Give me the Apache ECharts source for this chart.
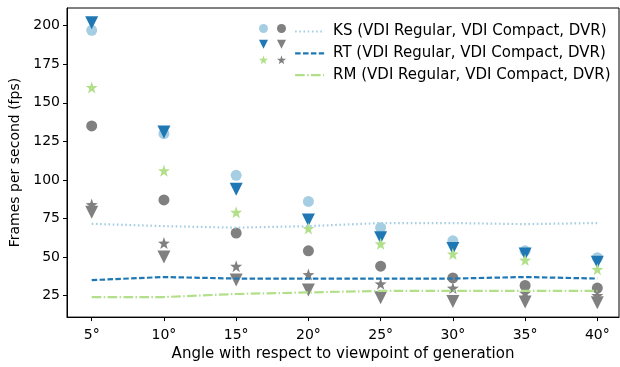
<!DOCTYPE html>
<html lang="en">
    <head>
        <meta charset="UTF-8">
        <script src="https://cdn.jsdelivr.net/npm/echarts@6/dist/echarts.min.js"></script>
        <title>Frames per second</title>
        <style>
            body { margin: 0; background: #fff; }
        </style>
    </head>
    <body>
        <div id="main" style="width: 620px; height: 367px;"></div>
    </body>
    <script>
        // angles (x axis) and tick values
        var angles = [5, 10, 15, 20, 25, 30, 35, 40];
        var yTicks = [25, 50, 75, 100, 125, 150, 175, 200];

        // KS
        var ksRegular = [197, 130, 103, 86, 69, 60.5, 54, 49.5];
        var ksCompact = [135, 87, 65.5, 54, 44, 36.4, 31.5, 29.8];
        var ksDvr     = [71.5, 70, 69, 70, 72, 72, 71.3, 72];
        // RT
        var rtRegular = [202, 131, 94, 74, 62.5, 55.5, 52, 46.5];
        var rtCompact = [79, 50, 35, 28.5, 23.5, 21.2, 20.8, 20.3];
        var rtDvr     = [35, 37, 36, 36, 36, 36, 37, 36];
        // RM
        var rmRegular = [160, 106, 79, 68.5, 58.5, 52, 48, 42];
        var rmCompact = [84, 59, 44, 38.6, 32.6, 29.8, 26.6, 25];
        var rmDvr     = [24, 24, 26, 27, 28, 28, 28, 28];

        var lightBlue = "#a6cee3", darkBlue = "#1f78b4", lightGreen = "#b2df8a", gray = "#808080";
        var star = "path://M0,-10 L2.35,-3.24 L9.51,-3.09 L3.8,1.24 L5.88,8.09 L0,4 L-5.88,8.09 L-3.8,1.24 L-9.51,-3.09 L-2.35,-3.24 Z";
        var triDown = "path://M-10,-10 L10,-10 L0,10 Z";
        var font = "DejaVu Sans";

        function pairs(vals) {
            return angles.map(function (a, i) { return [a, vals[i]]; });
        }
        function pts(name, vals, symbol, color, size) {
            return {
                name: name, type: "scatter", data: pairs(vals),
                symbol: symbol, symbolSize: size,
                itemStyle: { color: color, opacity: 1 }
            };
        }
        function dvr(name, vals, color, dash) {
            return {
                name: name, type: "line", data: pairs(vals), symbol: "none",
                lineStyle: { color: color, width: 2.2, type: dash },
                itemStyle: { color: color }
            };
        }

        var ksName = "KS (VDI Regular, VDI Compact, DVR)";
        var rtName = "RT (VDI Regular, VDI Compact, DVR)";
        var rmName = "RM (VDI Regular, VDI Compact, DVR)";

        var series = [
            pts("KS reg", ksRegular, "circle", lightBlue, 11),
            pts("RT reg", rtRegular, triDown, darkBlue, 13),
            pts("RM reg", rmRegular, star, lightGreen, 12),
            pts("KS comp", ksCompact, "circle", gray, 11),
            pts("RT comp", rtCompact, triDown, gray, 13),
            pts("RM comp", rmCompact, star, gray, 12),
            dvr(ksName, ksDvr, lightBlue, [1.6, 2.6]),
            dvr(rtName, rtDvr, darkBlue, [5.5, 2.4]),
            dvr(rmName, rmDvr, lightGreen, [9.6, 2.4, 1.5, 2.4])
        ];

        // legend: three columns of handles, text only on the last one
        function legendCol(names, left, width, withText) {
            var l = {
                data: names, orient: "vertical", left: left, top: 19,
                itemWidth: width, itemHeight: 14, itemGap: 6.8,
                selectedMode: false,
                formatter: withText ? "{name}" : function () { return ""; },
                textStyle: { fontFamily: font, fontSize: 15, color: "#000", lineHeight: 14, padding: [0, 0, 0, 4] }
            };
            if (withText) {
                l.itemStyle = { opacity: 0, color: "transparent", borderColor: "transparent" };
                l.lineStyle = { width: 2.2 };
            }
            return l;
        }

        var myCharts = echarts.init(document.getElementById("main"));
        var option = {
            animation: false,
            backgroundColor: "#fff",
            textStyle: { fontFamily: font },
            grid: { left: 67, right: 1, top: 8, bottom: 48, show: true, borderColor: "#000", borderWidth: 1 },
            legend: [
                legendCol(["KS reg", "RT reg", "RM reg"], 254, 9, false),
                legendCol(["KS comp", "RT comp", "RM comp"], 272, 9, false),
                legendCol([ksName, rtName, rmName], 289, 29, true)
            ],
            xAxis: {
                type: "value", min: 3.29, max: 41.5,
                name: "Angle with respect to viewpoint of generation",
                nameLocation: "middle", nameGap: 29,
                nameTextStyle: { fontFamily: font, fontSize: 15, color: "#000" },
                axisLine: { lineStyle: { color: "#000", width: 1 } },
                axisTick: { show: true, length: 4, customValues: angles, lineStyle: { color: "#000" } },
                axisLabel: { customValues: angles, formatter: "{value}°", fontFamily: font, fontSize: 14, color: "#000", margin: 11 },
                splitLine: { show: false }
            },
            yAxis: {
                type: "value", min: 11, max: 211.5,
                name: "Frames per second (fps)",
                nameLocation: "middle", nameGap: 45,
                nameTextStyle: { fontFamily: font, fontSize: 14, color: "#000" },
                axisLine: { show: true, lineStyle: { color: "#000", width: 1 } },
                axisTick: { show: true, length: 4, customValues: yTicks, lineStyle: { color: "#000" } },
                axisLabel: { customValues: yTicks, fontFamily: font, fontSize: 14, color: "#000", margin: 7 },
                splitLine: { show: false }
            },
            series: series
        };
        myCharts.setOption(option);
    </script>
</html>
